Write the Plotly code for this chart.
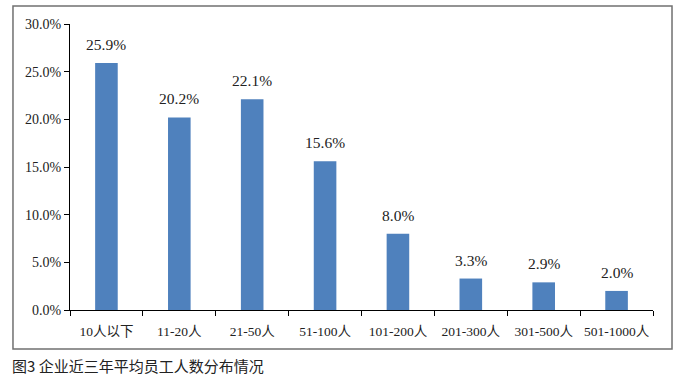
import plotly.graph_objects as go

categories = ["10人以下", "11-20人", "21-50人", "51-100人", "101-200人", "201-300人", "301-500人", "501-1000人"]
values = [25.9, 20.2, 22.1, 15.6, 8.0, 3.3, 2.9, 2.0]
y_ticks = [0, 5, 10, 15, 20, 25, 30]
caption = "图3 企业近三年平均员工人数分布情况"

font_main = "Liberation Serif, Noto Sans CJK SC, serif"

fig = go.Figure()
fig.add_trace(go.Bar(
    x=categories, y=values,
    marker=dict(color="#4F81BD", line=dict(width=0)),
    width=0.31,
))

for c, v in zip(categories, values):
    fig.add_annotation(x=c, y=v, text=f"{v:.1f}%", showarrow=False,
                       yanchor="bottom", yshift=8,
                       font=dict(family=font_main, size=15.5, color="#222"))

fig.add_annotation(xref="paper", yref="paper", x=-0.103, y=-0.15,
                   xanchor="left", yanchor="top", text=caption, showarrow=False,
                   font=dict(family="Noto Sans CJK SC, sans-serif", size=15, color="#222"))

fig.add_shape(type="rect", xref="paper", yref="paper",
              x0=-0.0978, x1=1.0326, y0=-0.136, y1=1.063,
              line=dict(color="#707070", width=1.5))

fig.update_layout(
    width=686, height=379,
    margin=dict(l=70, r=33, t=24, b=69),
    paper_bgcolor="white", plot_bgcolor="white",
    showlegend=False,
    font=dict(family=font_main, size=13.5, color="#222"),
    xaxis=dict(showline=True, linecolor="#000", linewidth=1,
               ticks="outside", tickson="boundaries", ticklen=5, tickcolor="#000",
               ticklabelstandoff=9,
               tickangle=0, tickfont=dict(size=13.5), showgrid=False),
    yaxis=dict(range=[0, 30], tickvals=y_ticks,
               ticktext=[f"{t:.1f}%" for t in y_ticks],
               showline=True, linecolor="#000", linewidth=1,
               ticks="outside", ticklen=5, tickcolor="#000",
               showgrid=False, zeroline=False, tickfont=dict(size=14)),
)

fig.write_html("out.html", config={"displayModeBar": False},
               post_script="document.body.style.margin='0';")
